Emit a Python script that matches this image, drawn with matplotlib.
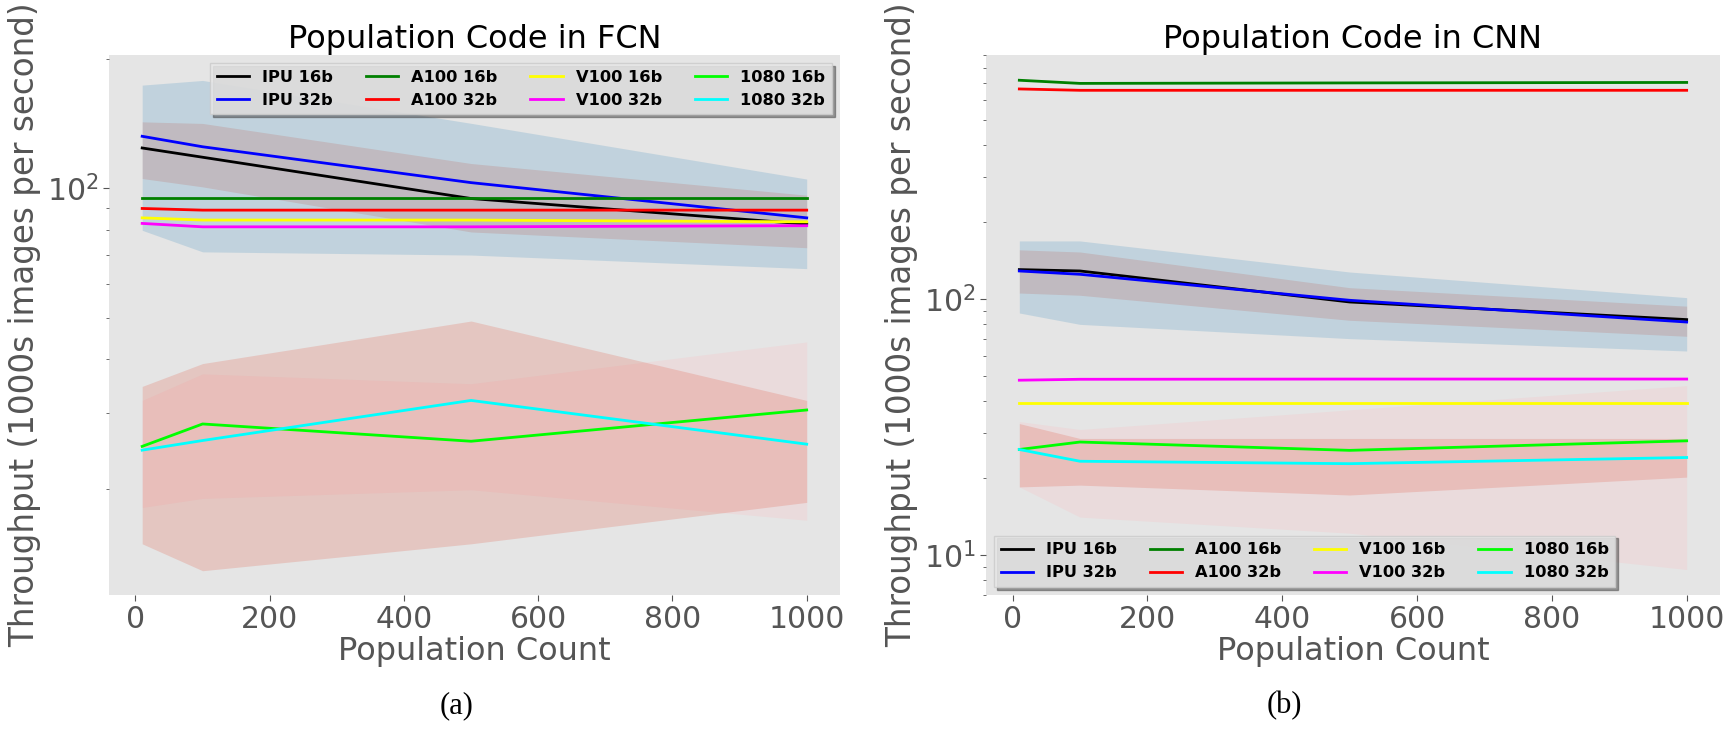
import matplotlib
matplotlib.use("Agg")
import matplotlib.pyplot as plt
from matplotlib.ticker import LogLocator, NullFormatter, LogFormatterSciNotation

# ---------------- data ----------------
populations = [10, 100, 500, 1000]
series_labels = ['IPU 16b', 'IPU 32b', 'A100 16b', 'A100 32b',
                 'V100 16b', 'V100 32b', '1080 16b', '1080 32b']
line_colors = ['black', 'blue', 'green', 'red', 'yellow', 'magenta', 'lime', 'cyan']
fill_colors = ['#E24A33', '#348ABD', '#988ED5', '#777777',
               '#FBC15E', '#8EBA42', '#FFB5B8', '#E24A33']

# FCN (thousands of images / s)
fcn_ipu16 = [124, 118, 94.6, 82.5]
fcn_ipu32 = [132, 124.8, 103, 85.3]
fcn_a100_16 = [95, 95, 95, 95]
fcn_a100_32 = [89.7, 88.9, 88.9, 88.9]
fcn_v100_16 = [85.3, 84.3, 84.3, 83.5]
fcn_v100_32 = [82.8, 81.3, 81.3, 81.8]
fcn_1080_16 = [25.1, 28.3, 25.8, 30.5]
fcn_1080_32 = [24.6, 25.9, 32.1, 25.4]

# FCN spread bands (low / high)
fcn_ipu16_lo = [105.3, 100.7, 79.1, 72.7]
fcn_ipu16_hi = [142.6, 141.4, 114.1, 96.3]
fcn_ipu32_lo = [79.8, 71.1, 69.9, 65.0]
fcn_ipu32_hi = [173.6, 178.0, 141.5, 105.0]
fcn_1080_16_lo = [18.1, 19.0, 19.9, 16.9]
fcn_1080_16_hi = [32.1, 37.0, 35.1, 43.9]
fcn_1080_32_lo = [14.9, 12.9, 14.9, 18.6]
fcn_1080_32_hi = [34.6, 39.1, 49.1, 32.1]

# CNN
cnn_ipu16 = [130.6, 129, 97.6, 83.3]
cnn_ipu32 = [129, 125.2, 99.1, 81.5]
cnn_a100_16 = [717, 697, 700, 703]
cnn_a100_32 = [663, 655, 655, 655]
cnn_v100_16 = [39.4, 39.4, 39.4, 39.4]
cnn_v100_32 = [48.3, 48.7, 48.8, 48.8]
cnn_1080_16 = [25.9, 27.7, 25.7, 28.0]
cnn_1080_32 = [25.9, 23.3, 22.8, 24.1]

cnn_ipu16_lo = [105.8, 103.7, 82.8, 71.7]
cnn_ipu16_hi = [156, 153, 111, 94]
cnn_ipu32_lo = [88.4, 79.8, 70.2, 62.8]
cnn_ipu32_hi = [169, 169, 127.8, 101.5]
cnn_1080_16_lo = [18.5, 14.1, 12.2, 8.8]
cnn_1080_16_hi = [33.3, 31.0, 37.0, 46.0]
cnn_1080_32_lo = [18.5, 18.8, 17.2, 20.2]
cnn_1080_32_hi = [32.7, 28.6, 28.6, 28.6]

x_ticks = [0, 200, 400, 600, 800, 1000]

fcn_lines = [fcn_ipu16, fcn_ipu32, fcn_a100_16, fcn_a100_32,
             fcn_v100_16, fcn_v100_32, fcn_1080_16, fcn_1080_32]
fcn_bands = [(fcn_ipu16_lo, fcn_ipu16_hi), (fcn_ipu32_lo, fcn_ipu32_hi), None, None,
             None, None, (fcn_1080_16_lo, fcn_1080_16_hi), (fcn_1080_32_lo, fcn_1080_32_hi)]
cnn_lines = [cnn_ipu16, cnn_ipu32, cnn_a100_16, cnn_a100_32,
             cnn_v100_16, cnn_v100_32, cnn_1080_16, cnn_1080_32]
cnn_bands = [(cnn_ipu16_lo, cnn_ipu16_hi), (cnn_ipu32_lo, cnn_ipu32_hi), None, None,
             None, None, (cnn_1080_16_lo, cnn_1080_16_hi), (cnn_1080_32_lo, cnn_1080_32_hi)]

# ---------------- figure ----------------
plt.rcParams['font.family'] = ['DejaVu Sans']
fig = plt.figure(figsize=(17.24, 7.32), dpi=100)
ax1 = fig.add_axes([0.0632, 0.1872, 0.424, 0.7377])
ax2 = fig.add_axes([0.5719, 0.1872, 0.4258, 0.7377])

grey = '#555555'


def draw(ax, lines, bands, title, ylim, legend_loc):
    ax.set_facecolor('#E5E5E5')
    for s in ax.spines.values():
        s.set_visible(False)
    for vals, band, lab, lc, fc in zip(lines, bands, series_labels, line_colors, fill_colors):
        ax.plot(populations, vals, color=lc, lw=2.0, label=lab)
        if band is not None:
            ax.fill_between(populations, band[0], band[1], color=fc, alpha=0.2, lw=0)
    ax.set_yscale('log')
    ax.set_ylim(*ylim)
    ax.set_xlim(-39.5, 1049.5)
    ax.set_xticks(x_ticks)
    ax.yaxis.set_major_locator(LogLocator(base=10))
    ax.yaxis.set_major_formatter(LogFormatterSciNotation())
    ax.yaxis.set_minor_locator(LogLocator(base=10, subs=range(2, 10)))
    ax.yaxis.set_minor_formatter(NullFormatter())
    ax.tick_params(axis='both', which='major', labelsize=21.5, labelcolor=grey,
                   color=grey, length=4, width=0.8)
    ax.tick_params(axis='y', which='minor', color=grey, length=2, width=0.6)
    ax.set_title(title, fontsize=23, color='black', pad=3)
    ax.set_xlabel('Population Count', fontsize=23, color=grey, labelpad=1)
    ax.set_ylabel('Throughput (1000s images per second)', fontsize=23.5, color=grey, labelpad=4)
    leg = ax.legend(loc=legend_loc, ncol=4, shadow=True, fancybox=False,
                    prop={'weight': 'bold', 'size': 11.7},
                    facecolor='#E8E8E8', edgecolor='0.8', framealpha=0.85,
                    borderaxespad=0.5)
    return leg


draw(ax1, fcn_lines, fcn_bands, 'Population Code in FCN', (11.33, 204), 'upper right')
draw(ax2, cnn_lines, cnn_bands, 'Population Code in CNN', (7.0, 900), 'lower left')

fig.text(0.265, 0.036, '(a)', fontsize=22, family=['Liberation Serif', 'DejaVu Serif'],
         ha='center', va='center')
fig.text(0.745, 0.036, '(b)', fontsize=22, family=['Liberation Serif', 'DejaVu Serif'],
         ha='center', va='center')

fig.savefig('out.png', dpi=100, facecolor='white')
